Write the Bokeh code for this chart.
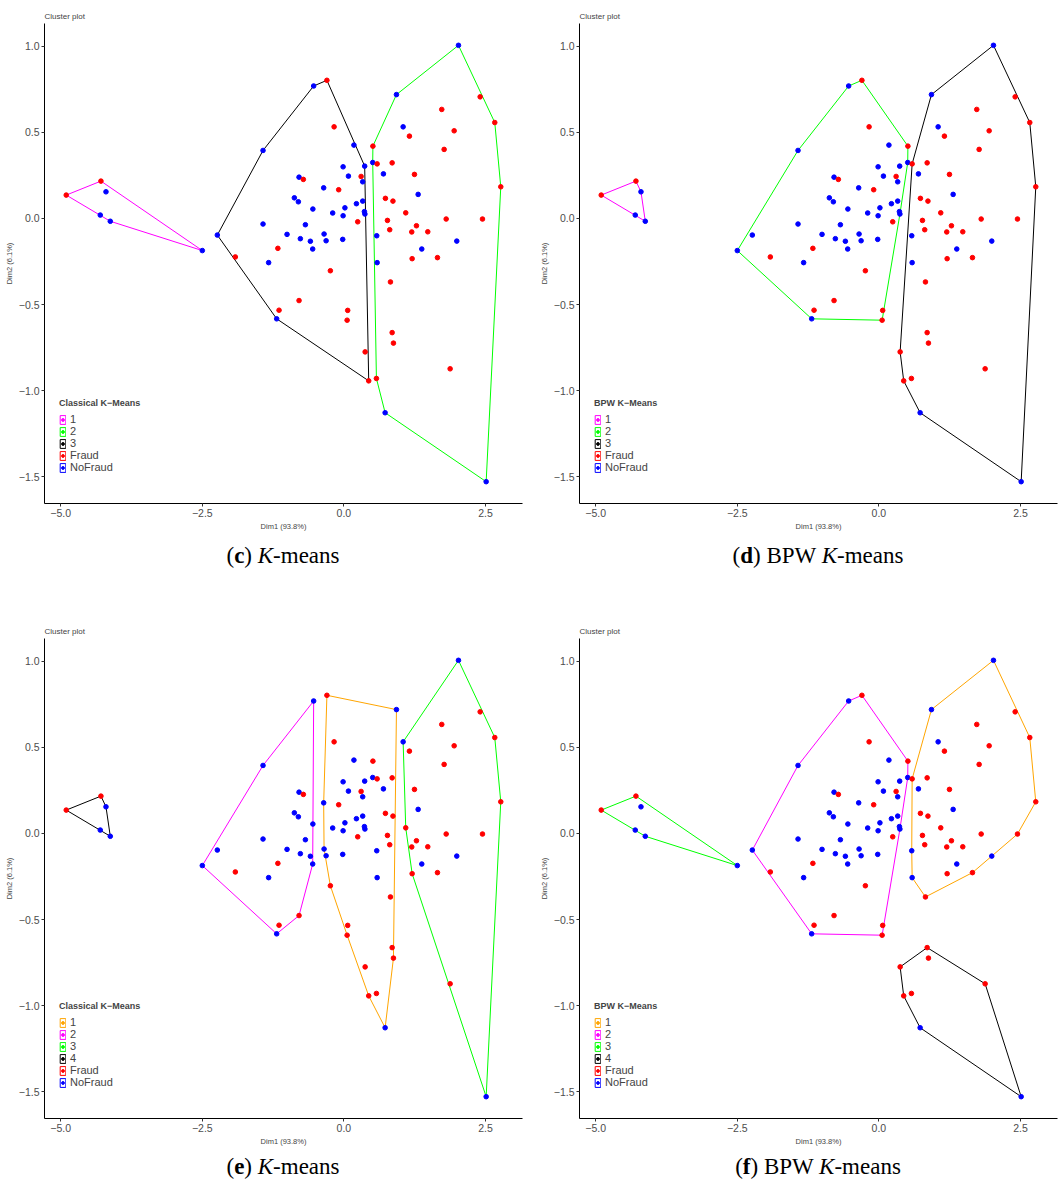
import math
from bokeh.plotting import figure
from bokeh.models import (Range1d, FixedTicker, CustomJSTickFormatter, Legend,
                          LegendItem, ColumnDataSource, Div)
from bokeh.layouts import column, row
from bokeh.embed import file_html
from bokeh.resources import INLINE

# ---------------- data ----------------
dim1 = [-4.903, -4.290, -4.201, -4.302, -4.125, -2.500, -2.235, -1.428, -1.428, -1.166,
        -0.534, -0.300, -0.173, 0.177, 0.512, 0.928, 0.367, 0.509, 0.587, 0.852,
        -0.014, -0.792, -0.716, 0.080, 0.304, 0.332, 0.698, -0.357, -0.092, -0.875,
        -0.804, -0.548, 0.018, 0.221, 0.332, 0.733, 0.866, -0.198, -0.014, 0.362,
        0.371, 0.244, 0.769, 0.809, -0.680, -1.004, -0.769, -0.350, -0.021, 0.580,
        2.406, 1.728, 2.664, 1.046, 1.947, 1.157, 1.770, 1.246, 2.770, 1.311,
        1.092, 1.806, 2.447, 1.281, 1.198, 1.481, 1.993, 1.375, 1.205, 1.652,
        0.587, -0.239, 0.822, 0.067, 0.057, 0.852, 0.875, 0.375, 1.876, 0.574,
        0.438, 0.728, 2.512, -0.592, -0.314, -0.551, -1.917, -1.329, -0.792, -1.145,
        -1.187, 2.023]
dim2 = [0.135, 0.216, 0.154, 0.019, -0.017, -0.187, -0.097, 0.394, -0.033, -0.174,
        0.768, 0.801, 0.531, 0.425, 0.419, 0.718, 0.303, 0.324, 0.316, 0.322,
        0.299, 0.239, 0.226, 0.245, 0.243, 0.212, 0.258, 0.177, 0.166, 0.119,
        0.096, 0.054, 0.061, 0.085, 0.100, 0.116, 0.100, 0.031, 0.015, 0.039,
        0.025, -0.020, -0.012, -0.066, -0.037, -0.093, -0.118, -0.091, -0.122, -0.101,
        0.705, 0.632, 0.556, 0.531, 0.508, 0.477, 0.400, 0.255, 0.183, 0.139,
        0.032, -0.004, -0.004, -0.043, -0.079, -0.078, -0.132, -0.178, -0.234, -0.228,
        -0.257, -0.304, -0.369, -0.534, -0.591, -0.663, -0.724, -0.775, -0.873, -0.929,
        -0.943, -1.128, -1.528, -0.133, -0.130, -0.178, -0.224, -0.257, -0.477, -0.533,
        -0.583, 1.004]
status = ["Fraud", "Fraud", "NoFraud", "NoFraud", "NoFraud", "NoFraud", "NoFraud", "NoFraud", "NoFraud", "Fraud",
          "NoFraud", "Fraud", "Fraud", "NoFraud", "Fraud", "NoFraud", "NoFraud", "NoFraud", "Fraud", "Fraud",
          "NoFraud", "NoFraud", "Fraud", "NoFraud", "Fraud", "NoFraud", "NoFraud", "NoFraud", "Fraud", "NoFraud",
          "NoFraud", "NoFraud", "NoFraud", "NoFraud", "NoFraud", "Fraud", "Fraud", "NoFraud", "NoFraud", "NoFraud",
          "NoFraud", "Fraud", "Fraud", "Fraud", "NoFraud", "NoFraud", "NoFraud", "NoFraud", "NoFraud", "NoFraud",
          "Fraud", "Fraud", "Fraud", "NoFraud", "Fraud", "Fraud", "Fraud", "Fraud", "Fraud", "NoFraud",
          "Fraud", "Fraud", "Fraud", "Fraud", "Fraud", "Fraud", "NoFraud", "NoFraud", "Fraud", "Fraud",
          "NoFraud", "Fraud", "Fraud", "Fraud", "Fraud", "Fraud", "Fraud", "Fraud", "Fraud", "Fraud",
          "Fraud", "NoFraud", "NoFraud", "NoFraud", "NoFraud", "NoFraud", "Fraud", "NoFraud", "Fraud", "Fraud",
          "NoFraud", "NoFraud"]

# cluster memberships per panel
kmeans3 = [1, 1, 1, 1, 1, 1, 3, 3, 3, 3,
           3, 3, 3, 3, 2, 2, 3, 2, 2, 2,
           3, 3, 3, 3, 3, 3, 2, 3, 3, 3,
           3, 3, 3, 3, 3, 2, 2, 3, 3, 3,
           3, 3, 2, 2, 3, 3, 3, 3, 3, 2,
           2, 2, 2, 2, 2, 2, 2, 2, 2, 2,
           2, 2, 2, 2, 2, 2, 2, 2, 2, 2,
           2, 3, 2, 3, 3, 2, 2, 3, 2, 2,
           3, 2, 2, 3, 3, 3, 3, 3, 3, 3,
           3, 2]
bpw3 = [1, 1, 1, 1, 1, 2, 2, 2, 2, 2,
        2, 2, 2, 2, 2, 3, 2, 2, 3, 3,
        2, 2, 2, 2, 2, 2, 3, 2, 2, 2,
        2, 2, 2, 2, 2, 3, 3, 2, 2, 2,
        2, 2, 3, 3, 2, 2, 2, 2, 2, 3,
        3, 3, 3, 3, 3, 3, 3, 3, 3, 3,
        3, 3, 3, 3, 3, 3, 3, 3, 3, 3,
        3, 2, 3, 2, 2, 3, 3, 3, 3, 3,
        3, 3, 3, 2, 2, 2, 2, 2, 2, 2,
        2, 3]
kmeans4 = [4, 4, 4, 4, 4, 2, 2, 2, 2, 2,
           2, 1, 1, 1, 1, 1, 1, 1, 1, 1,
           1, 2, 2, 1, 1, 1, 1, 1, 1, 2,
           2, 2, 1, 1, 1, 1, 1, 1, 1, 1,
           1, 1, 1, 1, 2, 2, 2, 1, 1, 1,
           3, 3, 3, 3, 3, 3, 3, 3, 3, 3,
           3, 3, 3, 3, 3, 3, 3, 3, 3, 3,
           1, 1, 1, 1, 1, 1, 1, 1, 3, 1,
           1, 1, 3, 2, 1, 2, 2, 2, 2, 2,
           2, 3]
bpw4 = [3, 3, 3, 3, 3, 3, 2, 2, 2, 2,
        2, 2, 2, 2, 2, 1, 2, 2, 1, 1,
        2, 2, 2, 2, 2, 2, 1, 2, 2, 2,
        2, 2, 2, 2, 2, 1, 1, 2, 2, 2,
        2, 2, 1, 1, 2, 2, 2, 2, 2, 1,
        1, 1, 1, 1, 1, 1, 1, 1, 1, 1,
        1, 1, 1, 1, 1, 1, 1, 1, 1, 1,
        1, 2, 1, 2, 2, 4, 4, 4, 4, 4,
        4, 4, 4, 2, 2, 2, 2, 2, 2, 2,
        2, 1]

x_ticks = [-5.0, -2.5, 0.0, 2.5]
y_ticks = [-1.5, -1.0, -0.5, 0.0, 0.5, 1.0]
x_label = "Dim1 (93.8%)"
y_label = "Dim2 (6.1%)"
plot_title = "Cluster plot"
status_levels = ["Fraud", "NoFraud"]

# ---------------- styling ----------------
STATUS_COL = {"Fraud": "#FF0000", "NoFraud": "#0000FF"}
MAG, GRN, BLK, ORG = "#FF00FF", "#00FF00", "#000000", "#FFA500"
COLS3 = {1: MAG, 2: GRN, 3: BLK}
COLS4 = {1: ORG, 2: MAG, 3: GRN, 4: BLK}
FONT = "Liberation Sans"
NAN = float("nan")


def convex_hull(points):
    pts = sorted(set(points))
    if len(pts) <= 2:
        return pts

    def cross(o, a, b):
        return (a[0] - o[0]) * (b[1] - o[1]) - (a[1] - o[1]) * (b[0] - o[0])

    lower = []
    for q in pts:
        while len(lower) >= 2 and cross(lower[-2], lower[-1], q) <= 0:
            lower.pop()
        lower.append(q)
    upper = []
    for q in reversed(pts):
        while len(upper) >= 2 and cross(upper[-2], upper[-1], q) <= 0:
            upper.pop()
        upper.append(q)
    return lower[:-1] + upper[:-1]


def padded(vals, f=0.05):
    lo, hi = min(vals), max(vals)
    d = (hi - lo) * f
    return lo - d, hi + d


XR = padded(dim1)
YR = padded(dim2)

FW, FH = 478, 480
BL = 44


def make_panel(labels, cmap, legend_title, border_right):
    p = figure(frame_width=FW, frame_height=FH,
               x_range=Range1d(*XR), y_range=Range1d(*YR),
               output_backend="svg", toolbar_location=None,
               min_border_left=BL, min_border_right=border_right,
               min_border_top=23, min_border_bottom=0,
               background_fill_color="white", border_fill_color="white")
    p.outline_line_color = None
    p.xgrid.visible = False
    p.ygrid.visible = False

    p.title.text = plot_title
    p.title.text_font = FONT
    p.title.text_font_size = "8px"
    p.title.text_font_style = "normal"
    p.title.align = "left"
    p.title.standoff = 5

    fmt = CustomJSTickFormatter(code="return (tick < 0 ? '\u2212' : '') + Math.abs(tick).toFixed(1);")
    for ax, ticks, lab in ((p.xaxis[0], x_ticks, x_label), (p.yaxis[0], y_ticks, y_label)):
        ax.ticker = FixedTicker(ticks=ticks)
        ax.formatter = fmt
        ax.axis_label = lab
        ax.axis_label_text_font = FONT
        ax.axis_label_text_font_size = "7.5px"
        ax.axis_label_text_font_style = "normal"
        ax.axis_label_standoff = 2
        ax.major_label_text_font = FONT
        ax.major_label_text_font_size = "10.5px"
        ax.major_label_text_color = "#4D4D4D"
        ax.major_label_standoff = 2
        ax.axis_line_color = "black"
        ax.axis_line_width = 1
        ax.major_tick_line_color = "#333333"
        ax.major_tick_in = 0
        ax.major_tick_out = 3
        ax.minor_tick_line_color = None

    # convex hulls of each cluster
    xs, ys, cs = [], [], []
    for k in sorted(cmap):
        pts = [(dim1[i], dim2[i]) for i in range(len(dim1)) if labels[i] == k]
        h = convex_hull(pts)
        xs.append([q[0] for q in h])
        ys.append([q[1] for q in h])
        cs.append(cmap[k])
    p.patches("xs", "ys", source=ColumnDataSource(dict(xs=xs, ys=ys, c=cs)),
              fill_color=None, line_color="c", line_width=1)

    # points coloured by status
    src = ColumnDataSource(dict(x=dim1, y=dim2, c=[STATUS_COL[s] for s in status]))
    p.scatter("x", "y", source=src, marker="circle", size=4.6, fill_color="c", line_color="c")

    # legend
    items = []
    keys = [(str(k), cmap[k]) for k in sorted(cmap)] + [(s, STATUS_COL[s]) for s in status_levels]
    for lab, col in keys:
        box = p.quad(left=[NAN], right=[NAN], top=[NAN], bottom=[NAN],
                     fill_color=None, line_color=col, line_width=1)
        dot = p.scatter(x=[NAN], y=[NAN], marker="circle", size=4, fill_color=col, line_color=col)
        items.append(LegendItem(label=lab, renderers=[box, dot]))
    leg = Legend(items=items, location=(15, 30), title=legend_title,
                 title_text_font=FONT, title_text_font_size="9px", title_text_font_style="bold",
                 title_standoff=5,
                 label_text_font=FONT, label_text_font_size="11px",
                 glyph_width=7, glyph_height=11, label_height=11, label_standoff=4,
                 spacing=0, padding=2, margin=0,
                 border_line_color=None, background_fill_alpha=0)
    p.add_layout(leg)
    return p


def caption(html, width, br, height, pad_top):
    return Div(text=(f'<div style="font-family:\'Liberation Serif\',serif;font-size:23px;line-height:26px;'
                     f'color:#000;text-align:center;padding-left:{BL}px;padding-right:{br}px;'
                     f'padding-top:{pad_top}px;width:{width}px;box-sizing:border-box;white-space:nowrap;">'
                     f'{html}</div>'),
               width=width, height=height, margin=0)


BR_L, BR_R = 13, 4
W_L, W_R = BL + FW + BR_L, BL + FW + BR_R

pc = make_panel(kmeans3, COLS3, "Classical K\u2212Means", BR_L)
pd_ = make_panel(bpw3, COLS3, "BPW K\u2212Means", BR_R)
pe = make_panel(kmeans4, COLS4, "Classical K\u2212Means", BR_L)
pf = make_panel(bpw4, COLS4, "BPW K\u2212Means", BR_R)

cc = caption("(<b>c</b>) <i>K</i>-means", W_L, BR_L, 82, 10)
cd = caption("(<b>d</b>) BPW <i>K</i>-means", W_R, BR_R, 82, 10)
ce = caption("(<b>e</b>) <i>K</i>-means", W_L, BR_L, 34, 6)
cf = caption("(<b>f</b>) BPW <i>K</i>-means", W_R, BR_R, 34, 6)

layout = column(row(pc, pd_), row(cc, cd), row(pe, pf), row(ce, cf))

open("out.html", "w").write(file_html(layout, INLINE))
